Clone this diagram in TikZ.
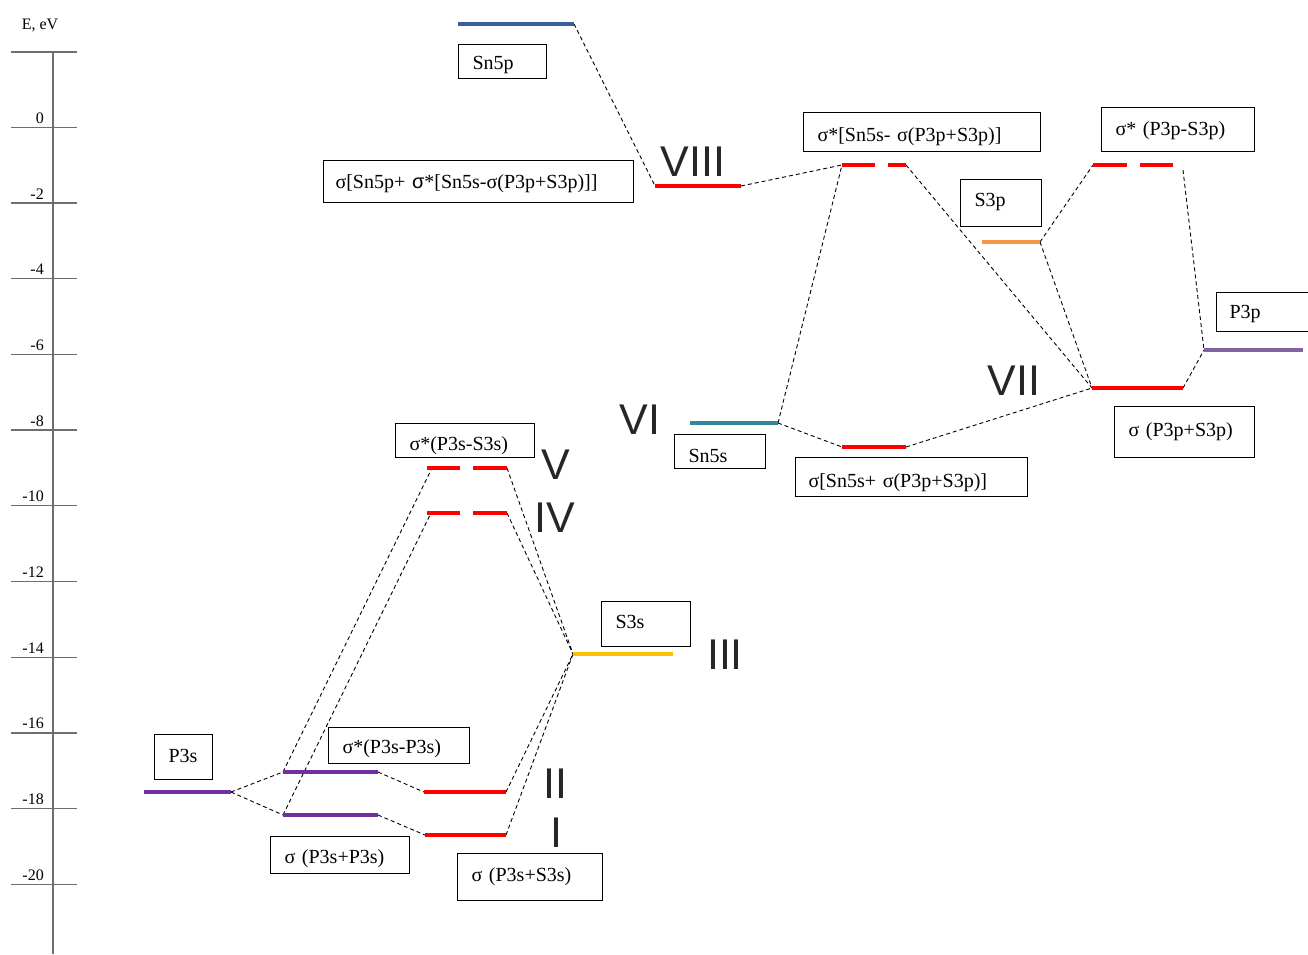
\documentclass[tikz,border=0pt]{standalone}
\usepackage{fontspec}
\setmainfont{Liberation Serif}
\newfontfamily\romfont{Liberation Sans}
\definecolor{snblue}{RGB}{58,95,150}
\definecolor{snteal}{RGB}{49,133,156}
\definecolor{sorange}{RGB}{247,150,70}
\definecolor{ppurple}{RGB}{128,100,162}
\definecolor{pdark}{RGB}{112,48,160}
\definecolor{syellow}{RGB}{255,192,0}
\definecolor{mored}{RGB}{255,0,0}
\definecolor{axgray}{RGB}{110,110,110}
\begin{document}
\begin{tikzpicture}[x=1pt,y=-1pt,
  bx/.style 2 args={draw=black, line width=1pt, anchor=north west, inner xsep=14pt, inner ysep=0pt, align=left, font=\fontsize{20}{24}\selectfont, text height=#1, text depth=#2},
  lvl/.style={line width=4pt},
  conn/.style={line width=0.9pt, dash pattern=on 4pt off 3pt},
  rom/.style={font=\romfont\fontsize{43}{46}\selectfont, inner sep=0pt, text=black!85},
  tick/.style={draw=axgray, line width=1.3pt},
  ticklab/.style={font=\fontsize{16}{18}\selectfont, anchor=base east, inner sep=0pt}]
\useasboundingbox (0,0) rectangle (1308,954);
% axis
\draw[axgray, line width=1.3pt] (53,52) -- (53,954);
\foreach \yy in {52,127.3,203,278.7,354.4,430.1,505.8,581.5,657.2,732.9,808.6,884.3} {\draw[tick] (11,\yy) -- (77,\yy);}
\node[font=\fontsize{16}{18}\selectfont, anchor=base, inner sep=0pt] (elab) at (40,29) {E, eV};
\foreach \v/\yy in {0/127.3,-2/203,-4/278.7,-6/354.4,-8/430.1,-10/505.8,-12/581.5,-14/657.2,-16/732.9,-18/808.6,-20/884.3} {\node[ticklab] (t\v) at (44,\yy-4) {\v};}
% level coordinates
\coordinate (snpL) at (458,24); \coordinate (snpR) at (574,24);
\coordinate (l8L) at (655,186); \coordinate (l8R) at (741,186);
\coordinate (sa1L) at (842,165); \coordinate (sa1R) at (906,165);
\coordinate (s3pL) at (982,242); \coordinate (s3pR) at (1040,242);
\coordinate (sa2L) at (1093,165); \coordinate (sa2R) at (1183,170);
\coordinate (p3pL) at (1204,350); \coordinate (p3pR) at (1303,350);
\coordinate (l7L) at (1092,388); \coordinate (l7R) at (1183,388);
\coordinate (sn5sL) at (690,423); \coordinate (sn5sR) at (778,423);
\coordinate (l6L) at (842,447); \coordinate (l6R) at (906,447);
\coordinate (l5L) at (432,468); \coordinate (l5R) at (507,468);
\coordinate (l4L) at (431,513); \coordinate (l4R) at (507,513);
\coordinate (s3sL) at (573,654); \coordinate (s3sR) at (673,654);
\coordinate (p3sL) at (144,792); \coordinate (p3sR) at (231,792);
\coordinate (paL) at (283,772); \coordinate (paR) at (378,772);
\coordinate (pbL) at (283,815); \coordinate (pbR) at (378,815);
\coordinate (l2L) at (424,792); \coordinate (l2R) at (506,792);
\coordinate (l1L) at (425,835); \coordinate (l1R) at (506,835);
% connectors
\draw[conn] (snpR) -- (l8L);
\draw[conn] (l8R) -- (sa1L);
\draw[conn] (sn5sR) -- (sa1L);
\draw[conn] (sn5sR) -- (l6L);
\draw[conn] (l6R) -- (l7L);
\draw[conn] (sa1R) -- (l7L);
\draw[conn] (s3pR) -- (sa2L);
\draw[conn] (s3pR) -- (l7L);
\draw[conn] (sa2R) -- (p3pL);
\draw[conn] (l7R) -- (p3pL);
\draw[conn] (p3sR) -- (paL);
\draw[conn] (p3sR) -- (pbL);
\draw[conn] (paR) -- (l2L);
\draw[conn] (pbR) -- (l1L);
\draw[conn] (l2R) -- (s3sL);
\draw[conn] (l1R) -- (s3sL);
\draw[conn] (paL) -- (l5L);
\draw[conn] (pbL) -- (l4L);
\draw[conn] (l5R) -- (s3sL);
\draw[conn] (l4R) -- (s3sL);
% levels
\draw[lvl, snblue] (snpL) -- (snpR);
\draw[lvl, mored] (l8L) -- (l8R);
\draw[lvl, mored] (842,165) -- (875,165) (888,165) -- (906,165);
\draw[lvl, sorange] (s3pL) -- (s3pR);
\draw[lvl, mored] (1093,165) -- (1127,165) (1140,165) -- (1173,165);
\draw[lvl, ppurple] (p3pL) -- (p3pR);
\draw[lvl, mored] (l7L) -- (l7R);
\draw[lvl, snteal] (sn5sL) -- (sn5sR);
\draw[lvl, mored] (l6L) -- (l6R);
\draw[lvl, mored] (427,468) -- (460,468) (473,468) -- (507,468);
\draw[lvl, mored] (427,513) -- (460,513) (473,513) -- (507,513);
\draw[lvl, syellow] (s3sL) -- (s3sR);
\draw[lvl, pdark] (p3sL) -- (p3sR);
\draw[lvl, pdark] (paL) -- (paR);
\draw[lvl, pdark] (pbL) -- (pbR);
\draw[lvl, mored] (l2L) -- (l2R);
\draw[lvl, mored] (l1L) -- (l1R);
% boxes
\node[bx={25pt}{9pt}, text width=60pt] (bSnp) at (458,44) {Sn5p};
\node[bx={28pt}{14pt}, inner xsep=12pt, text width=286pt] (bS8) at (323,160) {σ[Sn5p+ {\romfont σ}*[Sn5s-σ(P3p+S3p)]]};
\node[bx={29pt}{10pt}, text width=209pt] (bSa1) at (803,112) {σ*[Sn5s- σ(P3p+S3p)]};
\node[bx={28pt}{16pt}, text width=125pt] (bSa2) at (1101,107) {σ* (P3p-S3p)};
\node[bx={27pt}{20pt}, text width=53pt] (bS3p) at (960,179) {S3p};
\node[bx={26pt}{13pt}, inner xsep=13pt, text width=80pt] (bP3p) at (1216,292) {P3p};
\node[bx={30pt}{21pt}, text width=112pt] (bS7) at (1114,406) {σ (P3p+S3p)};
\node[bx={28pt}{6pt}, text width=63pt] (bSn5s) at (674,434) {Sn5s};
\node[bx={30pt}{9pt}, inner xsep=13pt, text width=206pt] (bS6) at (795,457) {σ[Sn5s+ σ(P3p+S3p)]};
\node[bx={27pt}{7pt}, text width=111pt] (bS5) at (395,423) {σ*(P3s-S3s)};
\node[bx={27pt}{18pt}, text width=61pt] (bS3s) at (601,601) {S3s};
\node[bx={28pt}{17pt}, text width=30pt] (bP3s) at (154,734) {P3s};
\node[bx={26pt}{10pt}, text width=113pt] (bPa) at (328,727) {σ*(P3s-P3s)};
\node[bx={27pt}{10pt}, text width=111pt] (bPb) at (270,836) {σ (P3s+P3s)};
\node[bx={28pt}{19pt}, text width=117pt] (bS1) at (457,853) {σ (P3s+S3s)};
% roman numerals
\node[rom] (r8) at (693,162) {VIII};
\node[rom] (r7) at (1014,381) {VII};
\node[rom] (r6) at (640,420) {VI};
\node[rom] (r5) at (556,465) {V};
\node[rom] (r4) at (555,518) {IV};
\node[rom] (r3) at (725,655) {III};
\node[rom] (r2) at (555,784) {II};
\node[rom] (r1) at (556,833) {I};
\end{tikzpicture}
\end{document}
